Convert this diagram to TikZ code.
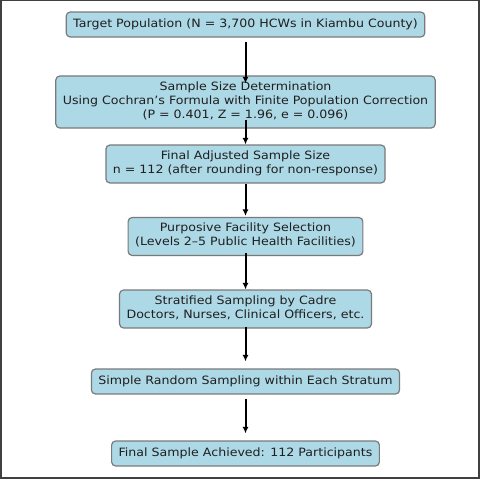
\documentclass[tikz,border=0pt]{standalone}
\usepackage{fontspec}
\setmainfont{DejaVu Sans}[FakeStretch=1.1]
\usetikzlibrary{arrows.meta}
\definecolor{boxblue}{HTML}{ADD8E6}
\definecolor{boxline}{HTML}{7A7A7A}
\tikzstyle{stage}=[rectangle,rounded corners=4bp,fill=boxblue,draw=boxline,line width=1.2bp,align=center,inner xsep=7bp,inner ysep=5.4bp,text=black!88,font=\fontsize{11.5}{14.2}\selectfont,execute at begin node=\strut,execute at end node=\strut]
\tikzstyle{flow} = [draw,line width=2bp,-{Latex[length=6.5bp,width=6bp]}]
\tikzstyle{frame} = [draw=black!75,line width=1.5bp]
\begin{document}
\begin{tikzpicture}[x=1bp,y=-1bp]
    \useasboundingbox (0,0) rectangle (480,479);
    \path[frame] (0.75,0.75) rectangle (479,478.2);

    \foreach \pos/\name/\label in {{(245.5,24.5)/target/{Target Population (N = 3,700 HCWs in Kiambu County)}},
        {(245.5,102)/sizecalc/{Sample Size Determination\\Using Cochran’s Formula with Finite Population Correction\\(P = 0.401, Z = 1.96, e = 0.096)}},
        {(245.5,164)/adjusted/{Final Adjusted Sample Size\\n = 112 (after rounding for non-response)}},
        {(245.5,236.5)/facility/{Purposive Facility Selection\\(Levels 2–5 Public Health Facilities)}},
        {(245.5,309)/strata/{Stratified Sampling by Cadre\\Doctors, Nurses, Clinical Officers, etc.}},
        {(245.5,381.5)/random/{Simple Random Sampling within Each Stratum}},
        {(245.5,453.5)/achieved/{Final Sample Achieved: 112 Participants}}}
        \node[stage] (\name) at \pos {\label};

    \foreach \source/\dest/\tail/\head in {target/sizecalc/4/-8, sizecalc/adjusted/-9/0, adjusted/facility/0/1, facility/strata/-3/0, strata/random/-2/7, random/achieved/4/7}
        \path[flow,shorten <=\tail bp,shorten >=\head bp] (\source) -- (\dest);

\end{tikzpicture}
\end{document}
